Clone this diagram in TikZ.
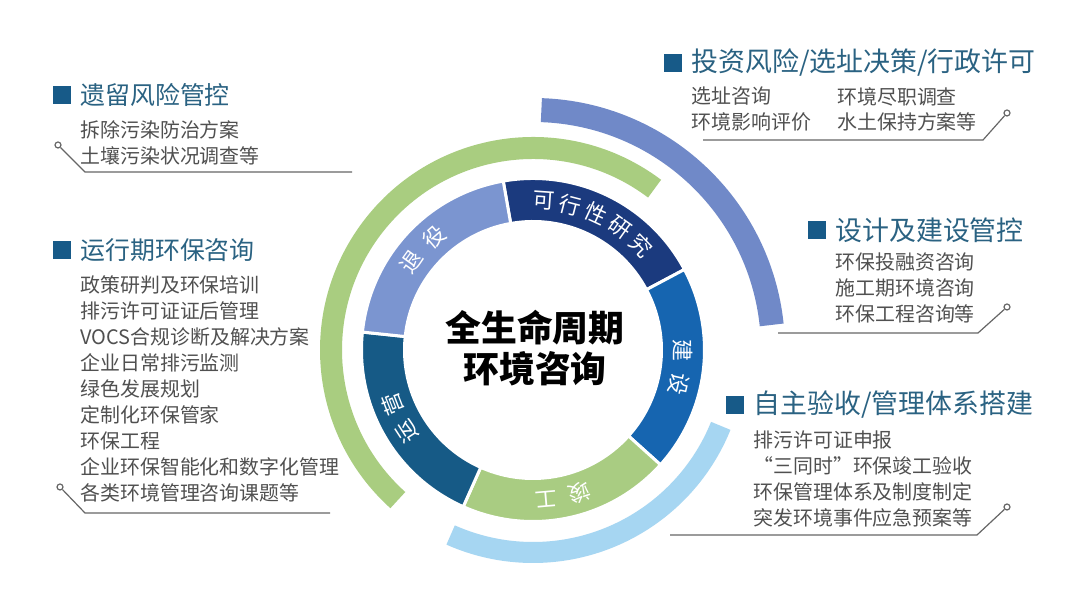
\documentclass[tikz,border=0pt]{standalone}
\usepackage{fontspec}
\setmainfont{Noto Sans CJK SC}
\usetikzlibrary{positioning}

\definecolor{feascol}{HTML}{1B3A7E}
\definecolor{buildcol}{HTML}{1665B0}
\definecolor{acceptcol}{HTML}{A9CC82}
\definecolor{opercol}{HTML}{165A86}
\definecolor{retirecol}{HTML}{7B95D0}
\definecolor{arcgreen}{HTML}{A9CD80}
\definecolor{arcblue}{HTML}{7089C8}
\definecolor{arcsky}{HTML}{A6D6F2}
\definecolor{squarecol}{HTML}{175A88}
\definecolor{headcol}{HTML}{2A6282}
\definecolor{itemcol}{HTML}{505050}
\definecolor{linecol}{HTML}{666666}

\begin{document}
\begin{tikzpicture}[x=1bp, y=1bp, inner sep=0pt]
    % Styles for headings, items and leader lines
    \tikzstyle{marker} = [rectangle, fill=squarecol, minimum size=18bp]
    \tikzstyle{heading} = [text=headcol, font=\fontsize{25}{30}\selectfont]
    \tikzstyle{bighead} = [text=headcol, font=\fontsize{27}{32}\selectfont]
    \tikzstyle{items} = [text=itemcol, font=\fontsize{20}{26}\selectfont, align=left]
    \tikzstyle{leader} = [draw=linecol, line width=1.2bp]
    \tikzstyle{dot} = [circle, draw=linecol, fill=white, line width=1.2bp, minimum size=6bp]
    \tikzstyle{ringlabel} = [text=white, font=\fontsize{22}{22}\selectfont]

    \fill[white] (0,0) rectangle (1080,604);

    % Rings
    \begin{scope}[shift={(533,254)}]
        \draw[line width=22bp, arcgreen] (53:202) arc[start angle=53, end angle=228, radius=202];
        \draw[line width=24bp, arcblue] (88:240) arc[start angle=88, end angle=6, radius=240];
        \draw[line width=21bp, arcsky] (-22:202.5) arc[start angle=-22, end angle=-114, radius=202.5];
        \foreach \a/\b/\c in {100/28/feascol, 28/-42/buildcol, -42/-114/acceptcol, 246/174/opercol, 174/100/retirecol}
            \filldraw[fill=\c, draw=white, line width=3bp] (\a:128.5) arc[start angle=\a, end angle=\b, radius=128.5]
                -- (\b:171.5) arc[start angle=\b, end angle=\a, radius=171.5] -- cycle;
        \foreach \t/\ang [count=\i] in {可/86, 行/75.5, 性/65, 研/54.5, 究/44, 建/0, 设/-13, 竣/-72, 工/-85, 运/213, 营/201, 退/144, 役/131}
            \node[ringlabel, rotate=\ang-90] (lab\i) at (\ang:150) {\t};
    \end{scope}

    % Centre text
    \node[font=\fontsize{36}{41}\selectfont\bfseries, align=center] (title) at (535,256) {全生命周期\\环境咨询};

    % Left side
    \node[marker] (m1) at (62,509) {};
    \node[heading, right=9bp of m1] (h1) {遗留风险管控};
    \node[items, below=14bp of h1.south west, anchor=north west] (t1) {拆除污染防治方案\\土壤污染状况调查等};

    \node[marker] (m2) at (62,354) {};
    \node[heading, right=9bp of m2] (h2) {运行期环保咨询};
    \node[items, below=14bp of h2.south west, anchor=north west] (t2) {政策研判及环保培训\\排污许可证证后管理\\VOCS合规诊断及解决方案\\企业日常排污监测\\绿色发展规划\\定制化环保管家\\环保工程\\企业环保智能化和数字化管理\\各类环境管理咨询课题等};

    % Right side
    \node[marker] (m3) at (673,541) {};
    \node[bighead, right=9bp of m3] (h3) {投资风险/选址决策/行政许可};
    \node[items, below=10bp of h3.south west, anchor=north west] (t3a) {选址咨询\\环境影响评价};
    \node[items, right=26bp of t3a.north east, anchor=north west] (t3b) {环境尽职调查\\水土保持方案等};

    \node[marker] (m4) at (817,374) {};
    \node[bighead, right=9bp of m4] (h4) {设计及建设管控};
    \node[items, below=10bp of h4.south west, anchor=north west] (t4) {环保投融资咨询\\施工期环境咨询\\环保工程咨询等};

    \node[marker] (m5) at (735,199) {};
    \node[bighead, right=9bp of m5] (h5) {自主验收/管理体系搭建};
    \node[items, below=12bp of h5.south west, anchor=north west] (t5) {排污许可证申报\\“三同时”环保竣工验收\\环保管理体系及制度制定\\突发环境事件应急预案等};

    % Leader lines
    \node[dot] (d1) at (58,459) {};
    \coordinate (e1) at (85,432);
    \coordinate (f1) at (352,432);
    \draw[leader] (d1) -- (e1) -- (f1);

    \node[dot] (d2) at (60,117) {};
    \coordinate (e2) at (85,91);
    \coordinate (f2) at (330,91);
    \draw[leader] (d2) -- (e2) -- (f2);

    \node[dot] (d3) at (1007,491) {};
    \coordinate (s3) at (703,464);
    \coordinate (e3) at (983,464);
    \draw[leader] (s3) -- (e3) -- (d3);

    \node[dot] (d4) at (1007,297) {};
    \coordinate (s4) at (778,271);
    \coordinate (e4) at (978,271);
    \draw[leader] (s4) -- (e4) -- (d4);

    \node[dot] (d5) at (1007,97) {};
    \coordinate (s5) at (670,69);
    \coordinate (e5) at (977,69);
    \draw[leader] (s5) -- (e5) -- (d5);
\end{tikzpicture}
\end{document}
